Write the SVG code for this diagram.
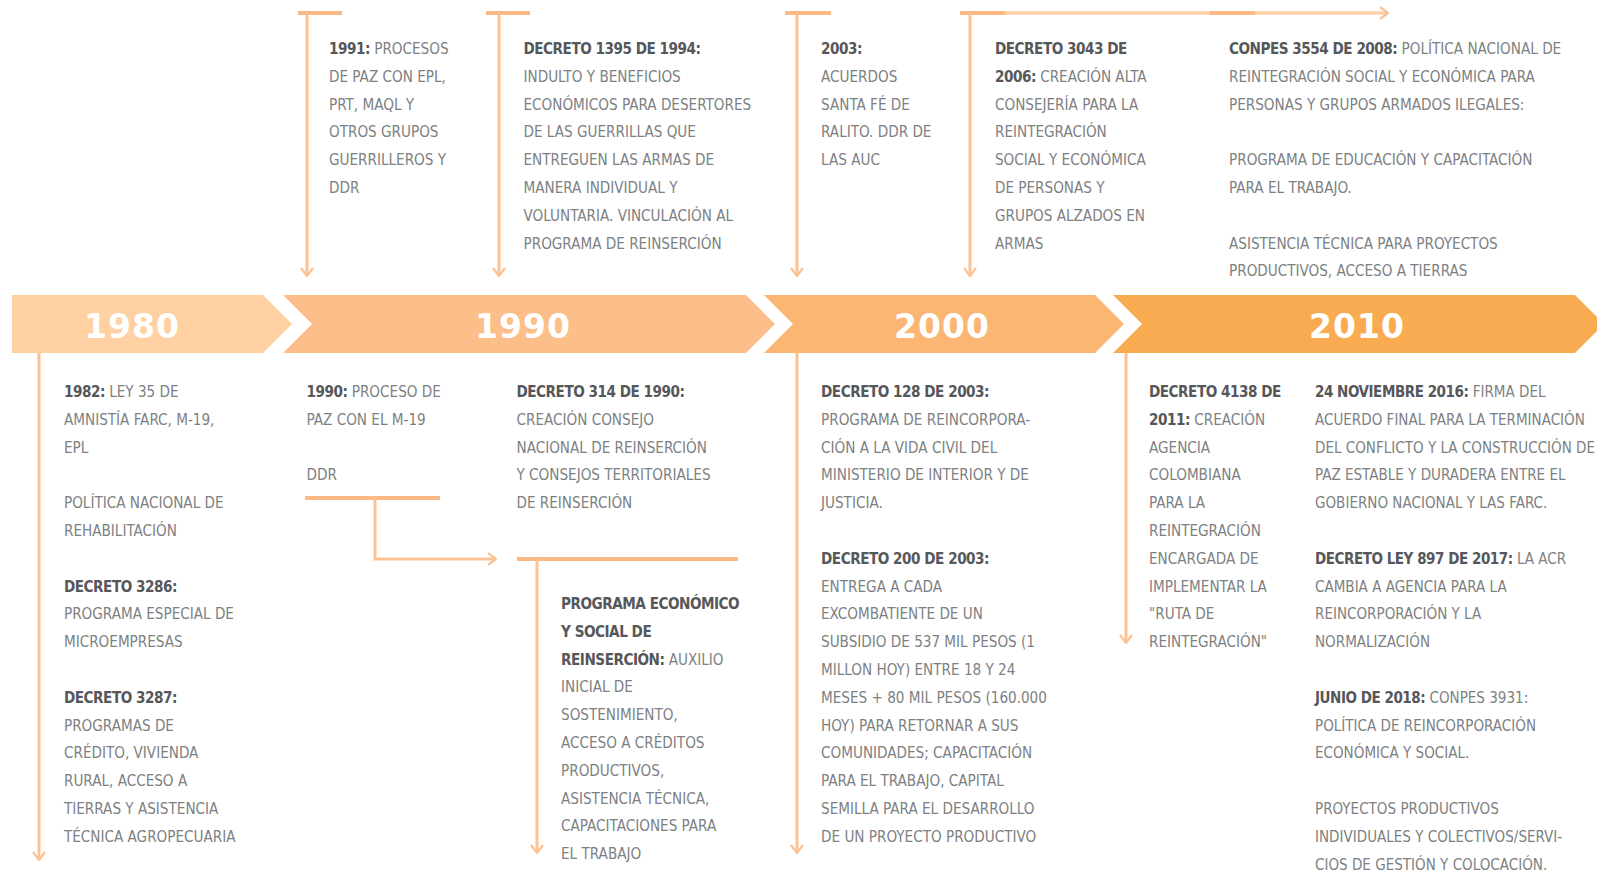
<svg xmlns="http://www.w3.org/2000/svg" width="1597" height="874" viewBox="0 0 1597 874">
<style>
.t{font-family:'Liberation Sans Narrow','DejaVu Sans Condensed','Liberation Sans',sans-serif;font-size:16px;fill:#7d7f82}
.b{font-weight:bold;fill:#56575a;letter-spacing:-0.5px}
.yr{font-family:'DejaVu Sans',sans-serif;font-weight:bold;font-size:33px;fill:#ffffff;text-anchor:middle;letter-spacing:1px}
.ln{stroke:#fdc293;stroke-width:3;fill:none}
.cap{stroke:#fdb984;stroke-width:4;fill:none}
.lt{stroke:#fed0a8;stroke-width:3.5;fill:none}
</style>
<defs>
<marker id="ah" viewBox="0 0 10 14" refX="9" refY="7" markerWidth="10" markerHeight="14" markerUnits="userSpaceOnUse" orient="auto">
<path d="M1,1 L9,7 L1,13" fill="none" stroke="#fdc293" stroke-width="2.2"/>
</marker>
</defs>
<rect width="1597" height="874" fill="#ffffff"/>

<g id="timeline">
<g id="bar-1980"><polygon points="12,295 263,295 292,324 263,353 12,353" fill="#ffd0a2"/><text class="yr" x="132" y="338">1980</text></g>
<g id="bar-1990"><polygon points="283,295 746,295 775,324 746,353 283,353 312,324" fill="#fdbf8a"/><text class="yr" x="523" y="338">1990</text></g>
<g id="bar-2000"><polygon points="764,295 1095,295 1124,324 1095,353 764,353 793,324" fill="#fbb674"/><text class="yr" x="942" y="338">2000</text></g>
<g id="bar-2010"><polygon points="1113,295 1575,295 1604,324 1575,353 1113,353 1142,324" fill="#f9ab52"/><text class="yr" x="1357" y="338">2010</text></g>
</g>

<g id="connectors">
<line class="cap" x1="298" y1="13" x2="342" y2="13"/>
<line class="ln" x1="307" y1="13" x2="307" y2="276" marker-end="url(#ah)"/>
<line class="cap" x1="486" y1="13" x2="530" y2="13"/>
<line class="ln" x1="499" y1="13" x2="499" y2="276" marker-end="url(#ah)"/>
<line class="cap" x1="785" y1="13" x2="831" y2="13"/>
<line class="ln" x1="797" y1="13" x2="797" y2="276" marker-end="url(#ah)"/>
<line class="lt" x1="960" y1="13" x2="1388" y2="13" marker-end="url(#ah)"/>
<line class="cap" x1="960" y1="13" x2="1005" y2="13"/>
<line class="cap" x1="1210" y1="13" x2="1255" y2="13"/>
<line class="ln" x1="970" y1="13" x2="970" y2="276" marker-end="url(#ah)"/>
<line class="ln" x1="39" y1="353" x2="39" y2="860" marker-end="url(#ah)"/>
<line class="cap" x1="305" y1="498" x2="440" y2="498"/>
<path class="ln" d="M375,498 V559 H496" marker-end="url(#ah)"/>
<line class="cap" x1="517" y1="559" x2="738" y2="559"/>
<line class="ln" x1="537" y1="559" x2="537" y2="853" marker-end="url(#ah)"/>
<line class="ln" x1="797" y1="353" x2="797" y2="853" marker-end="url(#ah)"/>
<line class="ln" x1="1126" y1="353" x2="1126" y2="643" marker-end="url(#ah)"/>
</g>

<g id="n-1991"><text class="t" transform="translate(18.1,0) scale(0.945,1)">
<tspan x="329" y="54"><tspan class="b">1991:</tspan> PROCESOS</tspan>
<tspan x="329" y="81.8">DE PAZ CON EPL,</tspan>
<tspan x="329" y="109.6">PRT, MAQL Y</tspan>
<tspan x="329" y="137.4">OTROS GRUPOS</tspan>
<tspan x="329" y="165.2">GUERRILLEROS Y</tspan>
<tspan x="329" y="193">DDR</tspan>
</text></g>

<g id="n-1994"><text class="t" transform="translate(28.8,0) scale(0.945,1)">
<tspan x="523.5" y="54" class="b">DECRETO 1395 DE 1994:</tspan>
<tspan x="523.5" y="81.8">INDULTO Y BENEFICIOS</tspan>
<tspan x="523.5" y="109.6">ECONÓMICOS PARA DESERTORES</tspan>
<tspan x="523.5" y="137.4">DE LAS GUERRILLAS QUE</tspan>
<tspan x="523.5" y="165.2">ENTREGUEN LAS ARMAS DE</tspan>
<tspan x="523.5" y="193">MANERA INDIVIDUAL Y</tspan>
<tspan x="523.5" y="220.8">VOLUNTARIA. VINCULACIÓN AL</tspan>
<tspan x="523.5" y="248.6">PROGRAMA DE REINSERCIÓN</tspan>
</text></g>

<g id="n-2003"><text class="t" transform="translate(45.2,0) scale(0.945,1)">
<tspan x="821" y="54" class="b">2003:</tspan>
<tspan x="821" y="81.8">ACUERDOS</tspan>
<tspan x="821" y="109.6">SANTA FÉ DE</tspan>
<tspan x="821" y="137.4">RALITO. DDR DE</tspan>
<tspan x="821" y="165.2">LAS AUC</tspan>
</text></g>

<g id="n-2006"><text class="t" transform="translate(54.7,0) scale(0.945,1)">
<tspan x="995" y="54" class="b">DECRETO 3043 DE</tspan>
<tspan x="995" y="81.8"><tspan class="b">2006:</tspan> CREACIÓN ALTA</tspan>
<tspan x="995" y="109.6">CONSEJERÍA PARA LA</tspan>
<tspan x="995" y="137.4">REINTEGRACIÓN</tspan>
<tspan x="995" y="165.2">SOCIAL Y ECONÓMICA</tspan>
<tspan x="995" y="193">DE PERSONAS Y</tspan>
<tspan x="995" y="220.8">GRUPOS ALZADOS EN</tspan>
<tspan x="995" y="248.6">ARMAS</tspan>
</text></g>

<g id="n-2008"><text class="t" transform="translate(67.6,0) scale(0.945,1)">
<tspan x="1229" y="54"><tspan class="b">CONPES 3554 DE 2008:</tspan> POLÍTICA NACIONAL DE</tspan>
<tspan x="1229" y="81.8">REINTEGRACIÓN SOCIAL Y ECONÓMICA PARA</tspan>
<tspan x="1229" y="109.6">PERSONAS Y GRUPOS ARMADOS ILEGALES:</tspan>
<tspan x="1229" y="165.2">PROGRAMA DE EDUCACIÓN Y CAPACITACIÓN</tspan>
<tspan x="1229" y="193">PARA EL TRABAJO.</tspan>
<tspan x="1229" y="248.6">ASISTENCIA TÉCNICA PARA PROYECTOS</tspan>
<tspan x="1229" y="276.4">PRODUCTIVOS, ACCESO A TIERRAS</tspan>
</text></g>

<g id="n-1982"><text class="t" transform="translate(3.5,0) scale(0.945,1)">
<tspan x="64" y="397"><tspan class="b">1982:</tspan> LEY 35 DE</tspan>
<tspan x="64" y="424.8">AMNISTÍA FARC, M-19,</tspan>
<tspan x="64" y="452.6">EPL</tspan>
<tspan x="64" y="508.2">POLÍTICA NACIONAL DE</tspan>
<tspan x="64" y="536">REHABILITACIÓN</tspan>
<tspan x="64" y="591.6" class="b">DECRETO 3286:</tspan>
<tspan x="64" y="619.4">PROGRAMA ESPECIAL DE</tspan>
<tspan x="64" y="647.2">MICROEMPRESAS</tspan>
<tspan x="64" y="702.8" class="b">DECRETO 3287:</tspan>
<tspan x="64" y="730.6">PROGRAMAS DE</tspan>
<tspan x="64" y="758.4">CRÉDITO, VIVIENDA</tspan>
<tspan x="64" y="786.2">RURAL, ACCESO A</tspan>
<tspan x="64" y="814">TIERRAS Y ASISTENCIA</tspan>
<tspan x="64" y="841.8">TÉCNICA AGROPECUARIA</tspan>
</text></g>

<g id="n-1990"><text class="t" transform="translate(16.9,0) scale(0.945,1)">
<tspan x="306.5" y="397"><tspan class="b">1990:</tspan> PROCESO DE</tspan>
<tspan x="306.5" y="424.8">PAZ CON EL M-19</tspan>
<tspan x="306.5" y="480.4">DDR</tspan>
</text></g>

<g id="n-314"><text class="t" transform="translate(28.4,0) scale(0.945,1)">
<tspan x="516.5" y="397" class="b">DECRETO 314 DE 1990:</tspan>
<tspan x="516.5" y="424.8">CREACIÓN CONSEJO</tspan>
<tspan x="516.5" y="452.6">NACIONAL DE REINSERCIÓN</tspan>
<tspan x="516.5" y="480.4">Y CONSEJOS TERRITORIALES</tspan>
<tspan x="516.5" y="508.2">DE REINSERCIÓN</tspan>
</text></g>

<g id="n-programa"><text class="t" transform="translate(30.9,0) scale(0.945,1)">
<tspan x="561" y="609" class="b">PROGRAMA ECONÓMICO</tspan>
<tspan x="561" y="636.8" class="b">Y SOCIAL DE</tspan>
<tspan x="561" y="664.6"><tspan class="b">REINSERCIÓN:</tspan> AUXILIO</tspan>
<tspan x="561" y="692.4">INICIAL DE</tspan>
<tspan x="561" y="720.2">SOSTENIMIENTO,</tspan>
<tspan x="561" y="748">ACCESO A CRÉDITOS</tspan>
<tspan x="561" y="775.8">PRODUCTIVOS,</tspan>
<tspan x="561" y="803.6">ASISTENCIA TÉCNICA,</tspan>
<tspan x="561" y="831.4">CAPACITACIONES PARA</tspan>
<tspan x="561" y="859.2">EL TRABAJO</tspan>
</text></g>

<g id="n-2003b"><text class="t" transform="translate(45.2,0) scale(0.945,1)">
<tspan x="821" y="397" class="b">DECRETO 128 DE 2003:</tspan>
<tspan x="821" y="424.8">PROGRAMA DE REINCORPORA-</tspan>
<tspan x="821" y="452.6">CIÓN A LA VIDA CIVIL DEL</tspan>
<tspan x="821" y="480.4">MINISTERIO DE INTERIOR Y DE</tspan>
<tspan x="821" y="508.2">JUSTICIA.</tspan>
<tspan x="821" y="563.8" class="b">DECRETO 200 DE 2003:</tspan>
<tspan x="821" y="591.6">ENTREGA A CADA</tspan>
<tspan x="821" y="619.4">EXCOMBATIENTE DE UN</tspan>
<tspan x="821" y="647.2">SUBSIDIO DE 537 MIL PESOS (1</tspan>
<tspan x="821" y="675">MILLON HOY) ENTRE 18 Y 24</tspan>
<tspan x="821" y="702.8">MESES + 80 MIL PESOS (160.000</tspan>
<tspan x="821" y="730.6">HOY) PARA RETORNAR A SUS</tspan>
<tspan x="821" y="758.4">COMUNIDADES; CAPACITACIÓN</tspan>
<tspan x="821" y="786.2">PARA EL TRABAJO, CAPITAL</tspan>
<tspan x="821" y="814">SEMILLA PARA EL DESARROLLO</tspan>
<tspan x="821" y="841.8">DE UN PROYECTO PRODUCTIVO</tspan>
</text></g>

<g id="n-2011"><text class="t" transform="translate(63.2,0) scale(0.945,1)">
<tspan x="1149" y="397" class="b">DECRETO 4138 DE</tspan>
<tspan x="1149" y="424.8"><tspan class="b">2011:</tspan> CREACIÓN</tspan>
<tspan x="1149" y="452.6">AGENCIA</tspan>
<tspan x="1149" y="480.4">COLOMBIANA</tspan>
<tspan x="1149" y="508.2">PARA LA</tspan>
<tspan x="1149" y="536">REINTEGRACIÓN</tspan>
<tspan x="1149" y="563.8">ENCARGADA DE</tspan>
<tspan x="1149" y="591.6">IMPLEMENTAR LA</tspan>
<tspan x="1149" y="619.4">"RUTA DE</tspan>
<tspan x="1149" y="647.2">REINTEGRACIÓN"</tspan>
</text></g>

<g id="n-2016"><text class="t" transform="translate(78.9,0) scale(0.94,1)">
<tspan x="1315" y="397"><tspan class="b">24 NOVIEMBRE 2016:</tspan> FIRMA DEL</tspan>
<tspan x="1315" y="424.8">ACUERDO FINAL PARA LA TERMINACIÓN</tspan>
<tspan x="1315" y="452.6">DEL CONFLICTO Y LA CONSTRUCCIÓN DE</tspan>
<tspan x="1315" y="480.4">PAZ ESTABLE Y DURADERA ENTRE EL</tspan>
<tspan x="1315" y="508.2">GOBIERNO NACIONAL Y LAS FARC.</tspan>
<tspan x="1315" y="563.8"><tspan class="b">DECRETO LEY 897 DE 2017:</tspan> LA ACR</tspan>
<tspan x="1315" y="591.6">CAMBIA A AGENCIA PARA LA</tspan>
<tspan x="1315" y="619.4">REINCORPORACIÓN Y LA</tspan>
<tspan x="1315" y="647.2">NORMALIZACIÓN</tspan>
<tspan x="1315" y="702.8"><tspan class="b">JUNIO DE 2018:</tspan> CONPES 3931:</tspan>
<tspan x="1315" y="730.6">POLÍTICA DE REINCORPORACIÓN</tspan>
<tspan x="1315" y="758.4">ECONÓMICA Y SOCIAL.</tspan>
<tspan x="1315" y="814">PROYECTOS PRODUCTIVOS</tspan>
<tspan x="1315" y="841.8">INDIVIDUALES Y COLECTIVOS/SERVI-</tspan>
<tspan x="1315" y="869.6">CIOS DE GESTIÓN Y COLOCACIÓN.</tspan>
</text></g>
</svg>
